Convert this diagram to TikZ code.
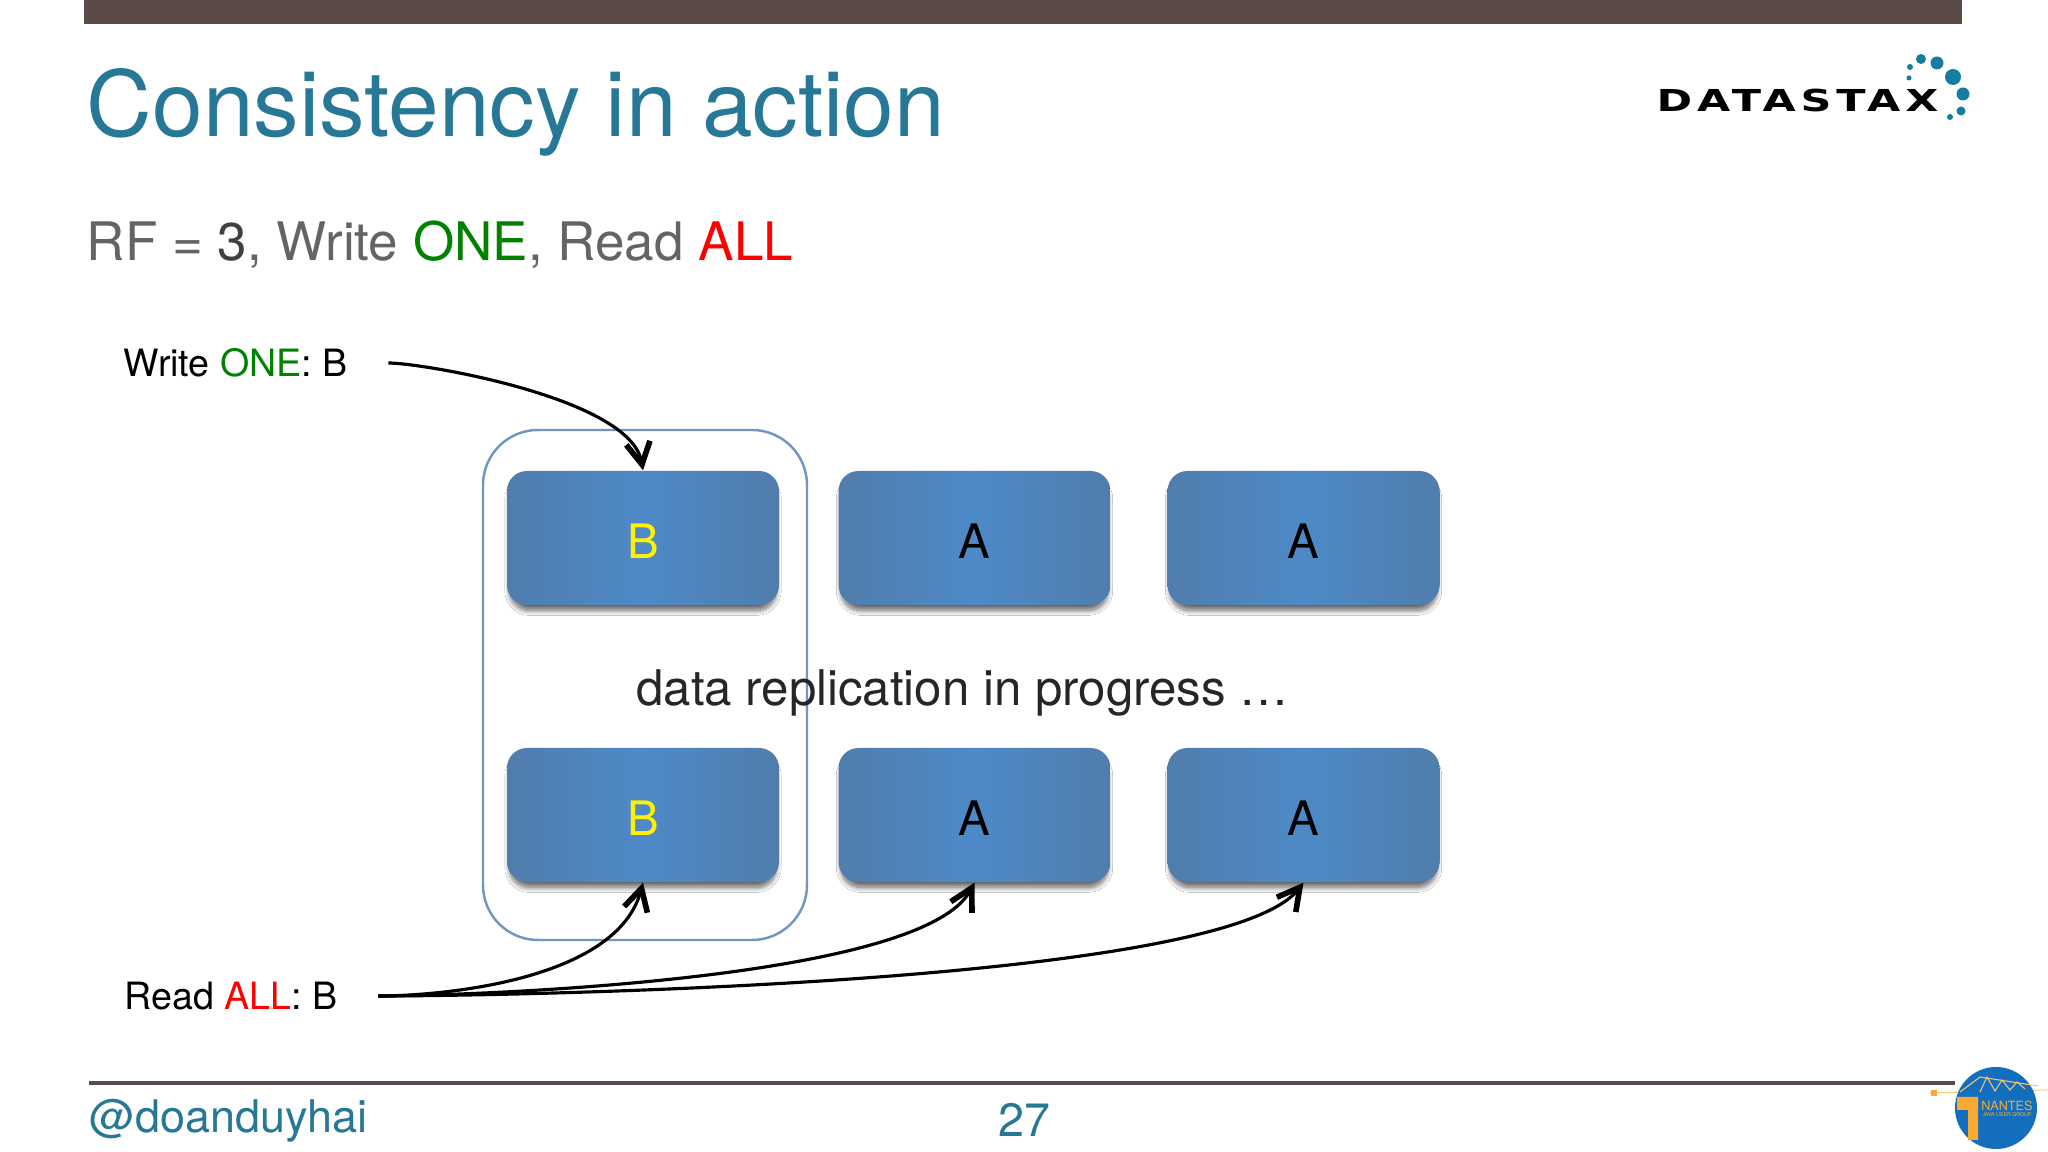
\documentclass[tikz,border=0pt]{standalone}
\usepackage{fontspec}
\setmainfont{TeX Gyre Heros}
\newfontfamily\logofont[LetterSpace=16,FakeStretch=1.42]{DejaVu Sans}
\usetikzlibrary{arrows.meta,shadows,shadows.blur}
\definecolor{Bar}{RGB}{90, 74, 72}
\definecolor{Title}{RGB}{38, 120, 150}
\definecolor{Body}{RGB}{100, 100, 100}
\definecolor{Frame}{RGB}{112, 150, 195}
\definecolor{BoxEdge}{RGB}{80, 125, 172}
\definecolor{BoxMid}{RGB}{78, 138, 200}
\definecolor{Teal}{RGB}{20, 125, 160}
\definecolor{Jug}{RGB}{20, 110, 190}
\definecolor{Crane}{RGB}{250, 170, 50}
\definecolor{One}{RGB}{0, 130, 0}
\tikzset{
  serverbox/.style={rounded corners=0.2cm, minimum width=2.72cm, minimum height=1.34cm,
    left color=BoxEdge, right color=BoxEdge, middle color=BoxMid,
    blur shadow={shadow xshift=0cm, shadow yshift=-0.07cm, shadow scale=0.98,
      shadow blur radius=0.05cm, shadow blur steps=12, shadow opacity=60},
    text height=0.42cm, text depth=0cm,
    font=\fontsize{13.5}{13.5}\selectfont},
  label/.style={anchor=west, inner sep=0pt, font=\fontsize{10.7}{10.7}\selectfont},
  request/.style={black, line width=0.9pt, shorten <=0.4cm,
    -{Straight Barb[length=2.2mm, width=2.4mm, line width=1.6pt]}},
}

\begin{document}
\begin{tikzpicture}
    %% Background
    \useasboundingbox (0,0) rectangle (20.48,11.52);
    \fill[white] (0,0) rectangle (20.48,11.52);

    %% Header
    \fill[Bar] (0.84,11.28) rectangle (19.62,11.52);
    \node[anchor=base west, inner sep=0pt, Title, font=\fontsize{25.9}{25.9}\selectfont] (Heading) at (0.86,10.15) {Consistency in action};
    \node[anchor=base west, inner sep=0pt, Body, font=\fontsize{15.1}{15.1}\selectfont] (Setting) at (0.86,8.91)
      {RF = {\color{black!75}3}, Write \textcolor{One}{ONE}, Read \textcolor{red}{ALL}};

    %% Logo
    \node[anchor=west, inner sep=0pt, font=\logofont\bfseries\fontsize{8.6}{8.6}\selectfont] (LogoText) at (16.56,10.51) {DATASTAX};
    \fill[Teal]
    (19.21,10.93) circle (0.05)
    (19.37,10.89) circle (0.065)
    (19.53,10.75) circle (0.08)
    (19.63,10.58) circle (0.065)
    (19.61,10.41) circle (0.045)
    (19.50,10.35) circle (0.03)
    (19.10,10.85) circle (0.03)
    (19.09,10.74) circle (0.025)
    ;

    %% Frame round the first column
    \node[draw=Frame, line width=0.7pt, rounded corners=0.55cm, minimum width=3.24cm, minimum height=5.10cm] (Column) at (6.45,4.67) {};

    %% Replicas
    \node[serverbox, text=yellow] (TopB) at (6.43,6.14) {B};
    \node[serverbox] (TopA) at (9.745,6.14) {A};
    \node[serverbox] (TopC) at (13.035,6.14) {A};
    \node[serverbox, text=yellow] (LowB) at (6.43,3.37) {B};
    \node[serverbox] (LowA) at (9.745,3.37) {A};
    \node[serverbox] (LowC) at (13.035,3.37) {A};

    \node[black!85, font=\fontsize{14}{14}\selectfont] (Progress) at (9.625,4.59) {data replication in progress \dots};

    %% Requests
    \node[label] (WriteLabel) at (1.23,7.89) {Write \textcolor{One}{ONE}: B};
    \node[label] (ReadLabel) at (1.24,1.56) {Read \textcolor{red}{ALL}: B};

    \draw[request] (WriteLabel.east) to[out=0, in=100, looseness=0.6] (TopB.north);
    \draw[request] (ReadLabel.east) to[out=0, in=-105, looseness=0.8] (LowB.south);
    \draw[request] (ReadLabel.east) to[out=0, in=-118, looseness=0.45] (LowA.south);
    \draw[request] (ReadLabel.east) to[out=0, in=-128, looseness=0.35] (LowC.south);

    %% Footer
    \draw[Bar, line width=0.9pt] (0.89,0.69) to (19.55,0.69);
    \node[anchor=base west, inner sep=0pt, Title, font=\fontsize{12.8}{12.8}\selectfont] (Handle) at (0.89,0.19) {@doanduyhai};
    \node[anchor=base, inner sep=0pt, Title, font=\fontsize{13.3}{13.3}\selectfont] (PageNo) at (10.24,0.15) {27};

    %% User group badge
    \draw[Crane!60, line width=0.3pt] (19.30,0.59) to (20.47,0.62);
    \fill[Crane] (19.31,0.56) rectangle (19.37,0.62);
    \fill[Jug] (19.96,0.44) circle (0.41);
    \draw[Crane!70, line width=0.3pt] (19.60,0.60) to (19.80,0.75) to (20.38,0.66)
    (19.80,0.60) to (19.87,0.75) to (19.95,0.61) to (20.02,0.72) to (20.10,0.62) to (20.17,0.70) to (20.25,0.63);
    \fill[Crane] (19.57,0.55) rectangle (19.78,0.42) (19.68,0.42) rectangle (19.78,0.12);
    \node[Crane, inner sep=0pt, font=\fontsize{3.6}{3.6}\selectfont] (GroupName) at (20.07,0.46) {NANTES};
    \node[Crane, inner sep=0pt, font=\fontsize{1.5}{1.5}\selectfont] (GroupKind) at (20.07,0.37) {JAVA USER GROUP};
\end{tikzpicture}
\end{document}
